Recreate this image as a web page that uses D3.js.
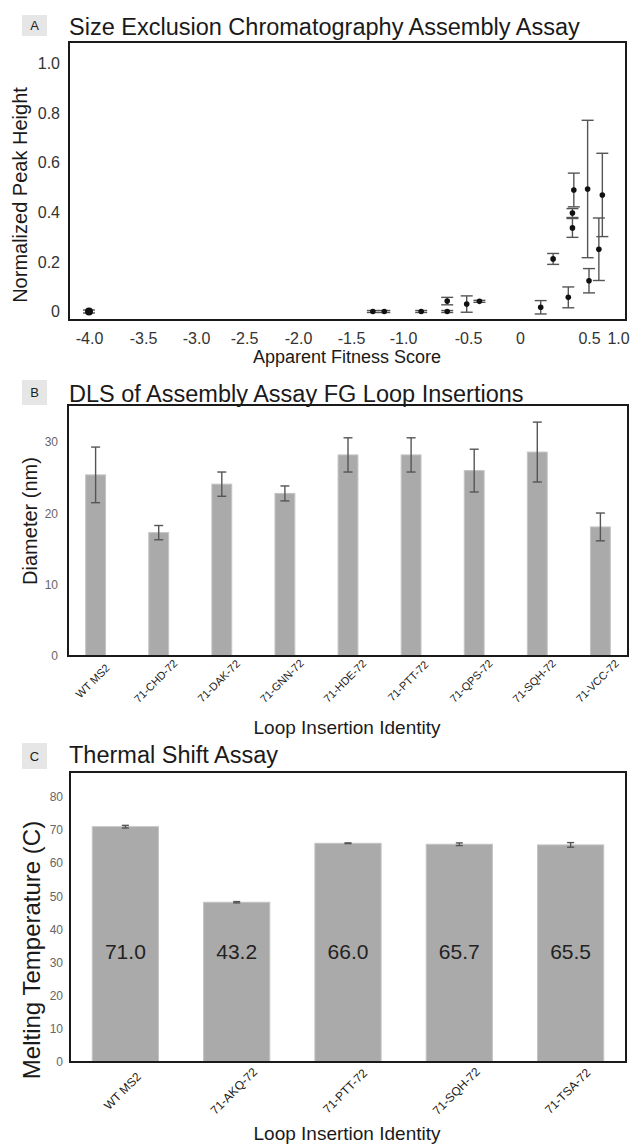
<!DOCTYPE html>
<html>
<head>
<meta charset="utf-8">
<script src="https://cdn.jsdelivr.net/npm/d3@7"></script>
<style>
  body { margin: 0; background: #fff; }
  text { font-family: "Liberation Sans", Arial, sans-serif; }
</style>
</head>
<body>
<svg width="632" height="1147"></svg>
<script>
// Panel A - size exclusion chromatography, one entry per variant
const secX   = [-4.0, -1.29, -1.18, -0.86, -0.66, -0.66, -0.51, -0.39, 0.15, 0.24, 0.35, 0.39, 0.38, 0.38, 0.49, 0.50, 0.67, 0.73];
const secY   = [0.0, 0.0, 0.0, 0.0, 0.042, 0.0, 0.03, 0.041, 0.017, 0.212, 0.057, 0.49, 0.397, 0.337, 0.494, 0.124, 0.251, 0.47];
const secErr = [0.006, 0.004, 0.004, 0.004, 0.015, 0.004, 0.033, 0.004, 0.027, 0.022, 0.042, 0.068, 0.018, 0.038, 0.277, 0.049, 0.126, 0.168];
const secXTicks = [-4.0, -3.5, -3.0, -2.5, -2.0, -1.5, -1.0, -0.5, 0, 0.5, 1.0];
const secYTicks = [0, 0.2, 0.4, 0.6, 0.8, 1.0];

// Panel B - DLS diameters
const dlsLabels = ["WT MS2", "71-CHD-72", "71-DAK-72", "71-GNN-72", "71-HDE-72", "71-PTT-72", "71-QPS-72", "71-SQH-72", "71-VCC-72"];
const dlsValues = [25.4, 17.3, 24.1, 22.8, 28.2, 28.2, 26.0, 28.6, 18.1];
const dlsErr    = [3.9, 1.0, 1.7, 1.05, 2.4, 2.4, 3.0, 4.2, 1.95];
const dlsTicks  = [0, 10, 20, 30];

// Panel C - thermal shift
const tsaLabels = ["WT MS2", "71-AKQ-72", "71-PTT-72", "71-SQH-72", "71-TSA-72"];
const tsaValues = [71.0, 48.2, 66.0, 65.7, 65.5];
const tsaErr    = [0.4, 0.2, 0.1, 0.4, 0.7];
const tsaText   = ["71.0", "43.2", "66.0", "65.7", "65.5"];
const tsaTicks  = [0, 10, 20, 30, 40, 50, 60, 70, 80];

const svg = d3.select("svg");
svg.append("rect").attr("width", 632).attr("height", 1147).attr("fill", "#fff");

function panelHeader(letter, title, y, boxTop, boxH) {
  svg.append("rect").attr("x", 22).attr("y", boxTop).attr("width", 25).attr("height", boxH).attr("fill", "#e6e6e6");
  svg.append("text").attr("x", 34.5).attr("y", boxTop + boxH / 2).attr("dy", "0.36em")
    .attr("text-anchor", "middle").attr("font-size", 13).attr("fill", "#222").text(letter);
  svg.append("text").attr("x", 69).attr("y", y).attr("font-size", 23.5).attr("fill", "#1a1a1a").text(title);
}

function frame(x0, x1, y0, y1) {
  svg.append("rect").attr("x", x0).attr("y", y0).attr("width", x1 - x0).attr("height", y1 - y0)
    .attr("fill", "none").attr("stroke", "#1a1a1a").attr("stroke-width", 2);
}

function yTitle(text, x, y, size) {
  svg.append("text").attr("transform", `translate(${x},${y}) rotate(-90)`).attr("dy", "0.35em")
    .attr("text-anchor", "middle").attr("font-size", size).attr("fill", "#1a1a1a").text(text);
}

function xTitle(text, x, y, size) {
  svg.append("text").attr("x", x).attr("y", y).attr("dy", "0.35em")
    .attr("text-anchor", "middle").attr("font-size", size).attr("fill", "#1a1a1a").text(text);
}

// ---------- Panel A ----------
panelHeader("A", "Size Exclusion Chromatography Assembly Assay", 35, 15, 21);

// tick labels on the original are hand-placed, so the scale is piecewise
const xA = d3.scaleLinear()
  .domain(secXTicks)
  .range([89, 143, 196, 244, 298, 351, 403, 468, 520, 589, 618]);
const yA = d3.scaleLinear().domain([0, 1]).range([311.5, 63.5]);
const fmtA = d => d === 0 ? "0" : d.toFixed(1);

const gA = svg.append("g");
gA.append("g").attr("transform", "translate(0,320)")
  .call(d3.axisBottom(xA).tickValues(secXTicks).tickSize(0).tickPadding(13).tickFormat(fmtA))
  .call(g => g.select(".domain").remove())
  .selectAll("text").attr("font-size", 16).attr("fill", "#333").attr("font-family", null);
gA.append("g").attr("transform", "translate(69,0)")
  .call(d3.axisLeft(yA).tickValues(secYTicks).tickSize(0).tickPadding(9).tickFormat(fmtA))
  .call(g => g.select(".domain").remove())
  .selectAll("text").attr("font-size", 16).attr("fill", "#333").attr("font-family", null);

const secData = secX.map((x, i) => ({ x, y: secY[i], e: secErr[i] }));
const errA = gA.selectAll(".errA").data(secData).enter().append("g").attr("class", "errA")
  .attr("stroke", "#555").attr("stroke-width", 1.4);
errA.append("line").attr("x1", d => xA(d.x)).attr("x2", d => xA(d.x))
  .attr("y1", d => yA(d.y - d.e)).attr("y2", d => yA(d.y + d.e));
errA.append("line").attr("x1", d => xA(d.x) - 6).attr("x2", d => xA(d.x) + 6)
  .attr("y1", d => yA(d.y + d.e)).attr("y2", d => yA(d.y + d.e));
errA.append("line").attr("x1", d => xA(d.x) - 6).attr("x2", d => xA(d.x) + 6)
  .attr("y1", d => yA(d.y - d.e)).attr("y2", d => yA(d.y - d.e));
gA.selectAll(".dotA").data(secData).enter().append("circle").attr("class", "dotA")
  .attr("cx", d => xA(d.x)).attr("cy", d => yA(d.y)).attr("r", (d, i) => i === 0 ? 4 : 2.8)
  .attr("fill", "#111");

frame(69, 626, 42, 320);
yTitle("Normalized Peak Height", 20, 195, 20);
xTitle("Apparent Fitness Score", 347, 357, 18);

// ---------- bar panels ----------
function barPanel(opt) {
  const x = d3.scaleBand().domain(opt.labels).range([opt.x0, opt.x1])
    .paddingInner(opt.padIn).paddingOuter(opt.padOut);
  const y = d3.scaleLinear().domain([0, opt.yMax]).range([opt.y1, opt.y0]);
  const g = svg.append("g");

  g.append("g").attr("transform", `translate(${opt.x0},0)`)
    .call(d3.axisLeft(y).tickValues(opt.ticks).tickSize(0).tickPadding(opt.tickPad))
    .call(a => a.select(".domain").remove())
    .selectAll("text").attr("font-size", 12).attr("fill", "#666").attr("font-family", null);

  g.append("g").attr("transform", `translate(0,${opt.y1})`)
    .call(d3.axisBottom(x).tickSize(0))
    .call(a => a.select(".domain").remove())
    .selectAll("text")
    .attr("font-size", opt.labelSize).attr("fill", "#222").attr("font-family", null)
    .attr("text-anchor", "middle").attr("x", 0).attr("y", 0).attr("dy", "0.35em")
    .attr("transform", `translate(-3,${opt.labelDrop}) rotate(-45)`);

  const data = opt.labels.map((l, i) => ({ l, v: opt.values[i], e: opt.err[i], t: opt.text ? opt.text[i] : null }));
  g.selectAll(".bar").data(data).enter().append("rect")
    .attr("x", d => x(d.l)).attr("width", x.bandwidth())
    .attr("y", d => y(d.v)).attr("height", d => y(0) - y(d.v))
    .attr("fill", "#aaaaaa").attr("stroke", "#c4c4c4").attr("stroke-width", 1);

  const eg = g.selectAll(".err").data(data).enter().append("g")
    .attr("stroke", "#555").attr("stroke-width", 1.4);
  const cx = d => x(d.l) + x.bandwidth() / 2;
  eg.append("line").attr("x1", cx).attr("x2", cx).attr("y1", d => y(d.v - d.e)).attr("y2", d => y(d.v + d.e));
  eg.append("line").attr("x1", d => cx(d) - opt.cap).attr("x2", d => cx(d) + opt.cap)
    .attr("y1", d => y(d.v + d.e)).attr("y2", d => y(d.v + d.e));
  eg.append("line").attr("x1", d => cx(d) - opt.cap).attr("x2", d => cx(d) + opt.cap)
    .attr("y1", d => y(d.v - d.e)).attr("y2", d => y(d.v - d.e));

  if (opt.text) {
    g.selectAll(".val").data(data).enter().append("text")
      .attr("x", cx).attr("y", y(opt.textLevel)).attr("dy", "0.35em")
      .attr("text-anchor", "middle").attr("font-size", 21).attr("fill", "#222").text(d => d.t);
  }
  frame(opt.x0, opt.x1, opt.y0, opt.y1);
}

// ---------- Panel B ----------
panelHeader("B", "DLS of Assembly Assay FG Loop Insertions", 402, 380, 25);
barPanel({
  labels: dlsLabels, values: dlsValues, err: dlsErr, ticks: dlsTicks,
  x0: 68, x1: 628, y0: 405, y1: 656, yMax: 35.2,
  padIn: 0.685, padOut: 0.28, tickPad: 10, labelSize: 11, labelDrop: 25, cap: 4.5
});
yTitle("Diameter (nm)", 30, 521, 20);
xTitle("Loop Insertion Identity", 347, 727, 19);

// ---------- Panel C ----------
panelHeader("C", "Thermal Shift Assay", 763, 743, 26);
barPanel({
  labels: tsaLabels, values: tsaValues, err: tsaErr, ticks: tsaTicks, text: tsaText, textLevel: 33.2,
  x0: 70, x1: 626, y0: 772, y1: 1062, yMax: 87.5,
  padIn: 0.405, padOut: 0.2, tickPad: 7, labelSize: 12, labelDrop: 29, cap: 3.5
});
yTitle("Melting Temperature (C)", 32, 950, 24);
xTitle("Loop Insertion Identity", 347, 1133, 19);
</script>
</body>
</html>
